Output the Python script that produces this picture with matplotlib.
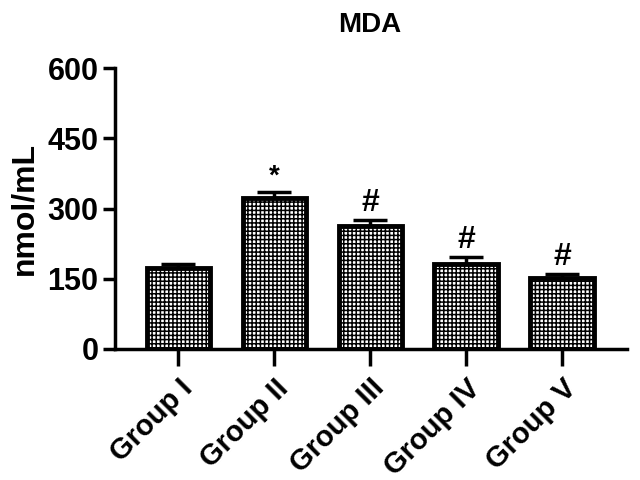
import matplotlib
matplotlib.use('Agg')
import matplotlib.pyplot as plt
import numpy as np

plt.rcParams['font.family'] = ['Liberation Sans', 'DejaVu Sans']
plt.rcParams['font.weight'] = 'bold'
plt.rcParams['hatch.linewidth'] = 1.1
plt.rcParams['hatch.color'] = '#222222'

groups = ["Group I", "Group II", "Group III", "Group IV", "Group V"]
means = [173, 323, 262, 181, 152]
errors = [8, 13, 13, 16, 8]
marks = ["", "*", "#", "#", "#"]

fig = plt.figure(figsize=(6.4, 4.8), dpi=100)
ax = fig.add_axes([0.18, 0.273, 0.80, 0.585])

x = np.arange(len(groups))
ax.bar(x, means, width=0.66, color='white', edgecolor='black', linewidth=3.5,
       hatch='++++', zorder=2)
ax.errorbar(x, means, yerr=[np.zeros(len(means)), errors], fmt='none',
            ecolor='black', elinewidth=2.5, capsize=12, capthick=2.5, zorder=1)

for xi, m, e, s in zip(x, means, errors, marks):
    if s:
        ax.text(xi, m + e + 4, s, ha='center', va='bottom',
                fontsize=23 if s == '#' else 20, fontweight='bold')

ax.set_xlim(-0.66, 4.68)
ax.set_ylim(0, 600)
ax.set_yticks([0, 150, 300, 450, 600])
ax.set_xticks(x)
ax.set_xticklabels(groups, rotation=45, ha='right', rotation_mode='anchor',
                   fontsize=21, fontweight='bold')
ax.tick_params(axis='y', labelsize=22, width=2.5, length=9, pad=3)
ax.tick_params(axis='x', width=2.5, length=12, pad=6)
for lbl in ax.get_yticklabels():
    lbl.set_fontweight('bold')

ax.spines['top'].set_visible(False)
ax.spines['right'].set_visible(False)
ax.spines['left'].set_linewidth(2.5)
ax.spines['bottom'].set_linewidth(2.5)

ax.set_ylabel('nmol/mL', fontsize=23, fontweight='bold', labelpad=6)
fig.text(0.578, 0.948, 'MDA', ha='center', va='center', fontsize=20, fontweight='bold')

plt.savefig('out.png', dpi=100)
plt.close()
